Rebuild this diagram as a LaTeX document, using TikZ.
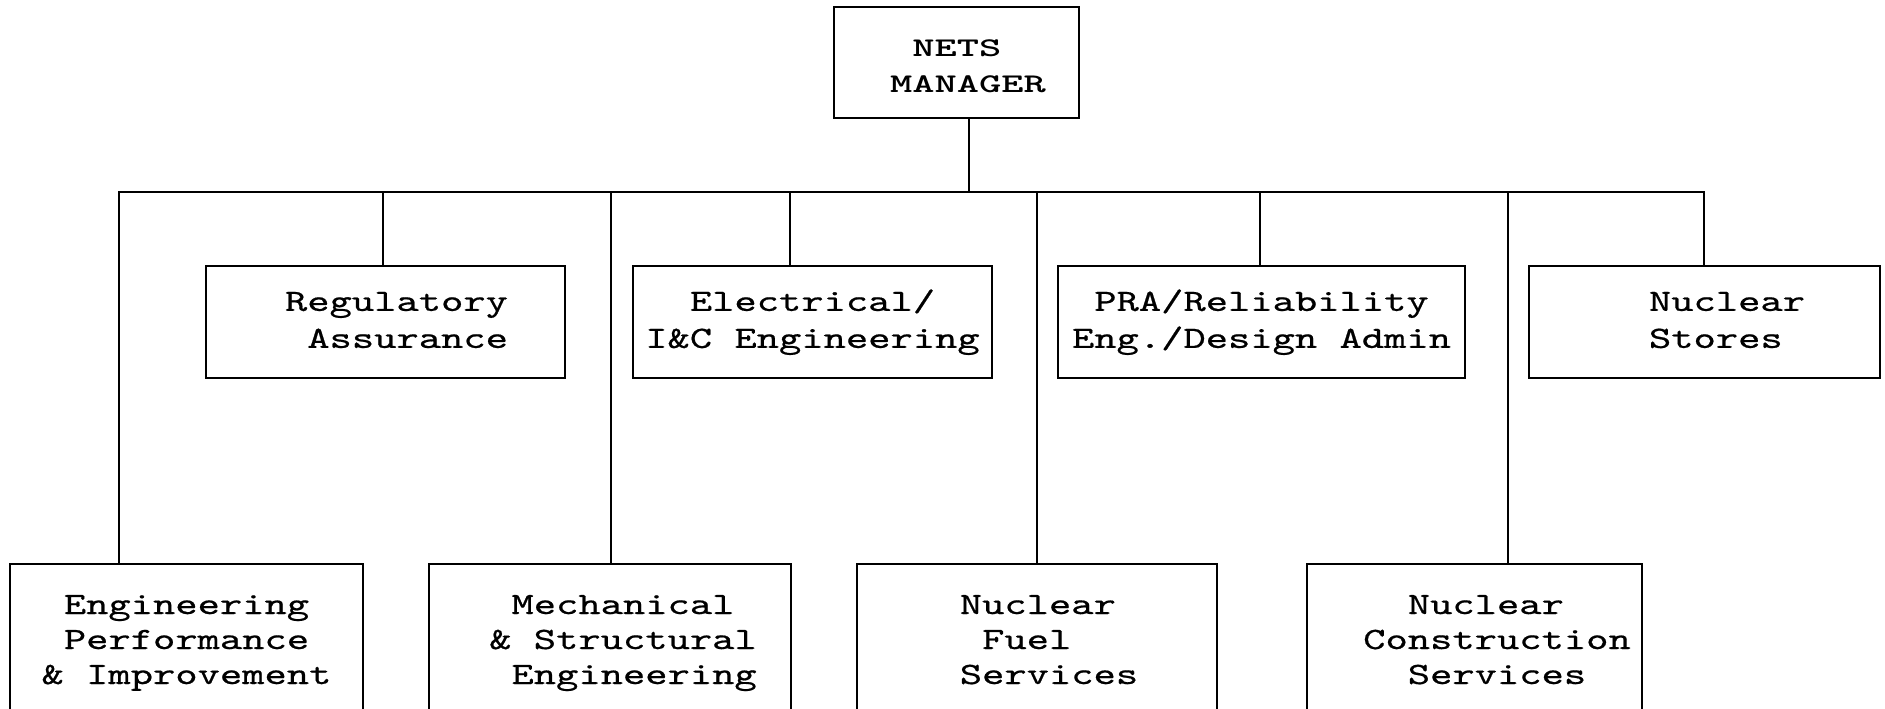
\documentclass[tikz,border=0pt]{standalone}
\usepackage{fontspec}
\usetikzlibrary{positioning}
\newfontfamily\boxfont[FakeStretch=1.37,FakeBold=0.6]{lmmono10-regular.otf}
\newfontfamily\headfont[FakeStretch=1.57]{lmmonolt10-bold.otf}
\newcommand{\chsp}{\phantom{x}}
\newcommand{\orgtext}[3]{\hspace*{#1}\begin{tabular}{@{}#2@{}}#3\end{tabular}}
\tikzset{
  box/.style={draw=black, line width=1.5pt, inner sep=0pt, text=black},
  head/.style={box, font=\headfont\fontsize{27}{36}\selectfont, minimum width=245pt, minimum height=111pt},
  unit/.style={box, font=\boxfont\fontsize{31}{37}\selectfont, minimum height=112pt},
  field/.style={box, font=\boxfont\fontsize{31}{35}\selectfont, minimum height=156pt},
  link/.style={line width=1.5pt, draw=black},
}

\begin{document}
\begin{tikzpicture}[x=1pt,y=-1pt]
  \useasboundingbox (0,0) rectangle (1885,709);
  \clip (0,0) rectangle (1885,709);

  \node[head] (mgr) at (956.5,62.5) {\orgtext{23pt}{l}{\rule{0pt}{35pt}\chsp NETS\\MANAGER}};

  \node[unit,minimum width=359pt] (reg) at (385.5,322) {\orgtext{22pt}{l}{Regulatory\\\chsp Assurance}};
  \node[unit,minimum width=359pt] (elec) at (812.5,322) {\orgtext{0pt}{c}{Electrical/\\I\&C Engineering}};
  \node[unit,minimum width=407pt] (pra) at (1261.5,322) {\orgtext{0pt}{c}{PRA/Reliability\\Eng./Design Admin}};
  \node[unit,minimum width=351pt] (stores) at (1704.5,322) {\orgtext{45pt}{l}{Nuclear\\Stores}};

  \node[field,minimum width=353pt] (perf) at (186.5,642) {\orgtext{0pt}{c}{Engineering\\Performance\\\& Improvement}};
  \node[field,minimum width=362pt] (mech) at (610,642) {\orgtext{26pt}{l}{\chsp Mechanical\\\& Structural\\\chsp Engineering}};
  \node[field,minimum width=360pt] (fuel) at (1037,642) {\orgtext{24pt}{l}{Nuclear\\\chsp Fuel\\Services}};
  \node[field,minimum width=335pt] (cons) at (1474.5,642) {\orgtext{45pt}{l}{\chsp\chsp Nuclear\\Construction\\\chsp\chsp Services}};

  % bus and taps
  \coordinate (bus) at (969,192);
  \coordinate (tapPerf) at (119,192);
  \coordinate (tapReg) at (383,192);
  \coordinate (tapMech) at (611,192);
  \coordinate (tapElec) at (790,192);
  \coordinate (tapFuel) at (1037,192);
  \coordinate (tapPra) at (1260,192);
  \coordinate (tapCons) at (1508,192);
  \coordinate (tapStores) at (1704,192);

  \draw[link] (bus |- mgr.south) -- (bus);
  \draw[link] (tapPerf |- perf.north) -- (tapPerf) -- (tapStores) -- (tapStores |- stores.north);
  \draw[link] (tapReg) -- (tapReg |- reg.north);
  \draw[link] (tapMech) -- (tapMech |- mech.north);
  \draw[link] (tapElec) -- (tapElec |- elec.north);
  \draw[link] (tapFuel) -- (tapFuel |- fuel.north);
  \draw[link] (tapPra) -- (tapPra |- pra.north);
  \draw[link] (tapCons) -- (tapCons |- cons.north);
\end{tikzpicture}
\end{document}
